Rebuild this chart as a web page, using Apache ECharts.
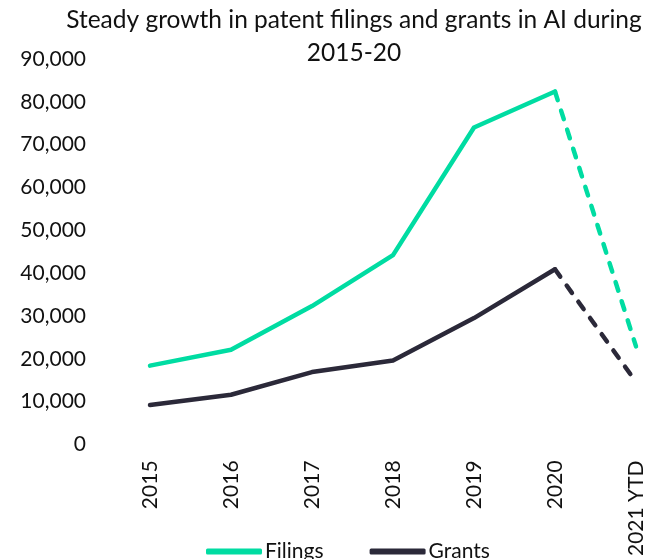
<!DOCTYPE html>
<html>
<head>
<meta charset="utf-8">
<script src="https://cdn.jsdelivr.net/npm/echarts@6/dist/echarts.min.js"></script>
<style>
html,body{margin:0;padding:0;background:#fff;}
#c{width:654px;height:559px;}
</style>
</head>
<body>
<div id="c"></div>
<script>
const categories = ['2015', '2016', '2017', '2018', '2019', '2020', '2021 YTD'];
const filings = [18400, 22100, 32300, 44200, 74000, 82400, 22900];
const grants = [9200, 11600, 16900, 19600, 29500, 40900, 14600];
const yTicks = [0, 10000, 20000, 30000, 40000, 50000, 60000, 70000, 80000, 90000];

const FONT = 'Lato';
const TEAL = '#00DCA2';
const DARK = '#2B2939';
const lastSolid = categories.length - 2;

function solidPart(arr) { return arr.map((v, i) => i <= lastSolid ? v : '-'); }
function dashedPart(arr) { return arr.map((v, i) => i >= lastSolid ? v : '-'); }

const chart = echarts.init(document.getElementById('c'), null, {renderer: 'canvas'});
chart.setOption({
  animation: false,
  backgroundColor: '#ffffff',
  title: {
    text: 'Steady growth in patent filings and grants in AI during\n2015-20',
    left: 349,
    top: -1,
    textAlign: 'center',
    textStyle: {fontFamily: FONT, fontSize: 24.5, fontWeight: 'normal', color: '#111', lineHeight: 33}
  },
  legend: {
    data: ['Filings', 'Grants'],
    left: 206,
    top: 541,
    padding: 0,
    icon: 'roundRect',
    itemWidth: 56,
    itemHeight: 6,
    itemGap: 46,
    textStyle: {fontFamily: FONT, fontSize: 21, color: '#111', padding: [0, 0, 0, -2]}
  },
  grid: {left: 150, right: 18, top: 59, bottom: 113, containLabel: false},
  xAxis: {
    type: 'category',
    data: categories,
    boundaryGap: false,
    axisLine: {show: false},
    axisTick: {show: false},
    axisLabel: {rotate: 90, interval: 0, margin: 16, fontFamily: FONT, fontSize: 21, color: '#111'}
  },
  yAxis: {
    type: 'value',
    min: yTicks[0],
    max: yTicks[yTicks.length - 1],
    interval: yTicks[1] - yTicks[0],
    splitLine: {show: false},
    axisLine: {show: false},
    axisTick: {show: false},
    axisLabel: {
      margin: 64, fontFamily: FONT, fontSize: 21, color: '#111',
      formatter: v => v.toLocaleString('en-US')
    }
  },
  series: [
    {name: 'Filings', type: 'line', data: solidPart(filings), symbol: 'none', color: TEAL,
     lineStyle: {width: 4.5, color: TEAL, cap: 'round', join: 'round'}},
    {name: 'Grants', type: 'line', data: solidPart(grants), symbol: 'none', color: DARK,
     lineStyle: {width: 4.5, color: DARK, cap: 'round', join: 'round'}},
    {name: 'Filings YTD', type: 'line', data: dashedPart(filings), symbol: 'none', color: TEAL,
     lineStyle: {width: 4.5, color: TEAL, type: [9, 11], cap: 'round', join: 'round'}},
    {name: 'Grants YTD', type: 'line', data: dashedPart(grants), symbol: 'none', color: DARK,
     lineStyle: {width: 4.5, color: DARK, type: [9, 11], cap: 'round', join: 'round'}}
  ]
});
</script>
</body>
</html>
